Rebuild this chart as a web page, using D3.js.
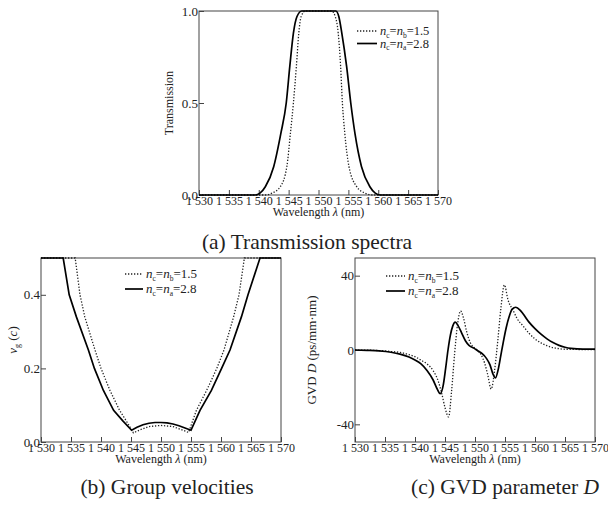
<!DOCTYPE html>
<html>
<head>
<meta charset="utf-8">
<style>
  body { margin:0; background:#fff; }
  svg text { font-family: "Liberation Serif", "Tinos", "DejaVu Serif", "Times New Roman", serif; fill:#222; }
</style>
</head>
<body>
<div id="chart-area"></div>
<script src="https://d3js.org/d3.v7.min.js"></script>
<script>

// shared wavelength axis
var xTicks = [1530, 1535, 1540, 1545, 1550, 1555, 1560, 1565, 1570];
var xTickLabels = ["1 530", "1 535", "1 540", "1 545", "1 550", "1 555", "1 560", "1 565", "1 570"];

// (a) transmission spectra
var transWlDot = [1530, 1541, 1542.2, 1543.6, 1544.7, 1545.3, 1545.8, 1546.3, 1546.7, 1547.1, 1547.8, 1552.2, 1552.8, 1553.3, 1553.7, 1554.0, 1554.4, 1555.1, 1556.4, 1557.8, 1559, 1570];
var transDot   = [0, 0, 0.01, 0.045, 0.154, 0.335, 0.5, 0.70, 0.88, 0.97, 1, 1, 0.97, 0.88, 0.70, 0.5, 0.335, 0.154, 0.045, 0.01, 0, 0];
var transWlSolid = [1530, 1539.4, 1540.2, 1541.1, 1542.5, 1543.7, 1544.6, 1545.2, 1545.8, 1546.4, 1547.2, 1552.9, 1553.4, 1553.9, 1554.7, 1555.4, 1556.1, 1557.2, 1558.6, 1559.5, 1560.3, 1570];
var transSolid   = [0, 0, 0.01, 0.045, 0.154, 0.335, 0.5, 0.70, 0.88, 0.97, 1, 1, 0.97, 0.88, 0.70, 0.5, 0.335, 0.154, 0.045, 0.01, 0, 0];
var transTicks = [0, 0.5, 1];
var transTickLabels = ["0.0", "0.5", "1.0"];

// (b) group velocities
var vgWlDot = [1530, 1535.7, 1536.5, 1537.3, 1539, 1540, 1541.5, 1543.1, 1544.3, 1545.4, 1546.5, 1548, 1550, 1552, 1553.5, 1554.6, 1555.9, 1557.6, 1559.3, 1560.5, 1562.1, 1563, 1563.9, 1570];
var vgDot   = [0.5, 0.5, 0.4, 0.34, 0.25, 0.2, 0.14, 0.086, 0.055, 0.025, 0.033, 0.042, 0.045, 0.042, 0.033, 0.026, 0.086, 0.14, 0.2, 0.25, 0.34, 0.4, 0.5, 0.5];
var vgWlSolid = [1530, 1533.7, 1534.7, 1535.9, 1537.9, 1538.9, 1540.4, 1542.1, 1543.6, 1545.1, 1546, 1547, 1548, 1549, 1550, 1551, 1552, 1553, 1554, 1555, 1556.5, 1558.4, 1560.1, 1561.5, 1563.4, 1564.5, 1566.5, 1570];
var vgSolid   = [0.5, 0.5, 0.4, 0.34, 0.25, 0.2, 0.14, 0.086, 0.058, 0.032, 0.040, 0.047, 0.051, 0.053, 0.053, 0.052, 0.049, 0.044, 0.038, 0.032, 0.086, 0.14, 0.2, 0.25, 0.34, 0.4, 0.5, 0.5];
var vgTicks = [0, 0.2, 0.4];
var vgTickLabels = ["0.0", "0.2", "0.4"];

// (c) GVD parameter D
var gvdWlDot = [1530, 1534, 1536, 1537.5, 1539, 1540, 1541, 1542, 1543, 1543.9, 1544.5, 1545, 1545.6, 1546.1, 1546.6, 1547.1, 1547.6, 1548.1, 1548.6, 1549.2, 1549.8, 1550.4, 1551, 1551.6, 1552.1, 1552.7, 1553.3, 1553.8, 1554.3, 1554.9, 1555.5, 1556.4, 1557, 1558, 1559, 1560, 1561, 1562, 1563, 1564, 1565, 1570];
var gvdDot   = [0, -0.3, -0.8, -1.3, -2.5, -3.6, -5.5, -7.5, -11, -17, -24, -31, -36, -22, -2, 14, 21, 17, 10, 4, 1.5, 0, -2.5, -7, -13, -21, -10, 5, 22, 35, 27, 21, 17, 13, 9, 6, 3.8, 2.3, 1.3, 0.7, 0.4, 0.2];
var gvdWlSolid = [1530, 1532, 1534, 1536, 1537.5, 1539, 1540, 1541, 1542, 1543, 1543.7, 1544.2, 1544.7, 1545.1, 1545.5, 1545.9, 1546.3, 1546.7, 1547.2, 1547.8, 1548.4, 1549, 1549.8, 1550.5, 1551.2, 1551.9, 1552.5, 1553, 1553.4, 1553.9, 1554.3, 1554.7, 1555.2, 1555.7, 1556.2, 1556.8, 1557.5, 1558, 1559, 1560, 1561, 1562, 1563, 1564, 1565, 1566, 1568, 1570];
var gvdSolid   = [0, -0.2, -0.5, -1.2, -2.2, -3.8, -5.4, -7.5, -11, -16, -21, -23.5, -19, -10, 0, 8, 13, 15, 13, 9, 5, 2.5, 1, -0.5, -2, -4.5, -8, -13, -15, -10, -3, 4, 12, 18, 22, 23, 21.5, 19.5, 15, 11.5, 8.5, 6, 4, 2.5, 1.5, 0.9, 0.5, 0.5];
var gvdTicks = [-40, 0, 40];
var gvdTickLabels = ["-40", "0", "40"];

// legend: subscript of the second n, and the value
var legendSubs = ["b", "a"];
var legendValues = ["1.5", "2.8"];

var serif = '"Liberation Serif", "Tinos", "DejaVu Serif", "Times New Roman", serif';

var svg = d3.select("#chart-area").append("svg")
    .attr("width", 608)
    .attr("height", 506)
    .attr("font-family", serif);

function drawPanel(p) {
    var x = d3.scaleLinear().domain([1530, 1570]).range([p.left, p.right]);
    var y = d3.scaleLinear().domain(p.yDomain).range([p.bottom, p.top]);

    svg.append("clipPath").attr("id", "clip-" + p.name)
      .append("rect")
        .attr("x", p.left).attr("y", p.top - 1)
        .attr("width", p.right - p.left).attr("height", p.bottom - p.top + 2);

    // axes, ticks pointing inward
    var xAxis = d3.axisBottom(x).tickValues(xTicks).tickSize(-5).tickPadding(1)
        .tickFormat(function(d, i) { return xTickLabels[i]; });
    var gx = svg.append("g").attr("transform", "translate(0," + p.bottom + ")").call(xAxis);
    gx.attr("font-size", 12);

    var yAxis = d3.axisLeft(y).tickValues(p.yTicks).tickSize(-5).tickPadding(1)
        .tickFormat(function(d, i) { return p.yTickLabels[i]; });
    var gy = svg.append("g").attr("transform", "translate(" + p.left + ",0)").call(yAxis);
    gy.attr("font-size", 13);

    [gx, gy].forEach(function(g) {
        g.attr("font-family", serif);
        g.select(".domain").remove();
        g.selectAll(".tick line").attr("stroke", "#444");
        g.selectAll(".tick text").attr("fill", "#222");
    });

    // frame
    svg.append("rect")
        .attr("x", p.left).attr("y", p.top)
        .attr("width", p.right - p.left).attr("height", p.bottom - p.top)
        .attr("fill", "none").attr("stroke", "#444").attr("stroke-width", 1);

    var line = d3.line()
        .x(function(d) { return x(d[0]); })
        .y(function(d) { return y(d[1]); })
        .curve(p.curve);

    svg.append("path")
        .datum(d3.zip(p.wlDot, p.dot))
        .attr("clip-path", "url(#clip-" + p.name + ")")
        .attr("d", line)
        .attr("fill", "none")
        .attr("stroke", "#222")
        .attr("stroke-width", 1.3)
        .attr("stroke-dasharray", "1.3,1.7");

    svg.append("path")
        .datum(d3.zip(p.wlSolid, p.solid))
        .attr("clip-path", "url(#clip-" + p.name + ")")
        .attr("d", line)
        .attr("fill", "none")
        .attr("stroke", "#000")
        .attr("stroke-width", 1.7);

    // legend
    var lg = svg.append("g");
    legendSubs.forEach(function(sub, i) {
        var ly = p.legY + i * p.legGap;
        lg.append("line")
            .attr("x1", p.legX).attr("x2", p.legX + p.legLen)
            .attr("y1", ly).attr("y2", ly)
            .attr("stroke", i == 0 ? "#222" : "#000")
            .attr("stroke-width", i == 0 ? 1.3 : 1.7)
            .attr("stroke-dasharray", i == 0 ? "1.3,1.7" : null);
        var t = lg.append("text")
            .attr("x", p.legX + p.legLen + 3)
            .attr("y", ly + 4)
            .attr("font-size", p.legSize);
        t.append("tspan").attr("font-style", "italic").text("n");
        t.append("tspan").attr("font-size", 7.5).attr("dy", 2.5).text("c");
        t.append("tspan").attr("dy", -2.5).text("=");
        t.append("tspan").attr("font-style", "italic").text("n");
        t.append("tspan").attr("font-size", 7.5).attr("dy", 2.5).text(sub);
        t.append("tspan").attr("dy", -2.5).text("=" + legendValues[i]);
    });

    // x title
    var xt = svg.append("text")
        .attr("x", (p.left + p.right) / 2)
        .attr("y", p.bottom + 21)
        .attr("text-anchor", "middle")
        .attr("font-size", 12);
    xt.append("tspan").text("Wavelength ");
    xt.append("tspan").attr("font-style", "italic").text("λ");
    xt.append("tspan").text(" (nm)");

    // y title
    var yt = svg.append("text")
        .attr("transform", "translate(" + p.yTitleX + "," + ((p.top + p.bottom) / 2 + p.yTitleShift) + ") rotate(-90)")
        .attr("text-anchor", "middle")
        .attr("font-size", p.yTitleSize);
    p.yTitle(yt);

    // caption
    var cap = svg.append("text")
        .attr("x", p.capX).attr("y", p.capY)
        .attr("text-anchor", "middle")
        .attr("font-size", 21.5)
        .attr("fill", "#111");
    p.caption(cap);
}

drawPanel({
    name: "a", left: 199, right: 438, top: 11, bottom: 195,
    yDomain: [0, 1], yTicks: transTicks, yTickLabels: transTickLabels,
    wlDot: transWlDot, dot: transDot, wlSolid: transWlSolid, solid: transSolid,
    curve: d3.curveMonotoneX,
    legX: 357, legY: 31, legGap: 12.5, legLen: 20, legSize: 12.5,
    yTitleX: 173, yTitleShift: 0, yTitleSize: 12,
    yTitle: function(t) { t.text("Transmission"); },
    capX: 307, capY: 249,
    caption: function(t) { t.text("(a) Transmission spectra"); }
});

drawPanel({
    name: "b", left: 41, right: 281, top: 258, bottom: 442,
    yDomain: [0, 0.5], yTicks: vgTicks, yTickLabels: vgTickLabels,
    wlDot: vgWlDot, dot: vgDot, wlSolid: vgWlSolid, solid: vgSolid,
    curve: d3.curveLinear,
    legX: 125, legY: 274, legGap: 15, legLen: 18, legSize: 13,
    yTitleX: 17, yTitleShift: -10, yTitleSize: 13,
    yTitle: function(t) {
        t.append("tspan").attr("font-style", "italic").text("v");
        t.append("tspan").attr("font-size", 8).attr("dy", 3).text("g");
        t.append("tspan").attr("dy", -3).text(" (");
        t.append("tspan").attr("font-style", "italic").text("c");
        t.append("tspan").text(")");
    },
    capX: 167, capY: 494,
    caption: function(t) { t.text("(b) Group velocities"); }
});

drawPanel({
    name: "c", left: 355, right: 595, top: 258, bottom: 442,
    yDomain: [-49.5, 49.5], yTicks: gvdTicks, yTickLabels: gvdTickLabels,
    wlDot: gvdWlDot, dot: gvdDot, wlSolid: gvdWlSolid, solid: gvdSolid,
    curve: d3.curveMonotoneX,
    legX: 386, legY: 276, legGap: 15, legLen: 19, legSize: 13,
    yTitleX: 316, yTitleShift: 0, yTitleSize: 13,
    yTitle: function(t) {
        t.append("tspan").text("GVD ");
        t.append("tspan").attr("font-style", "italic").text("D");
        t.append("tspan").text(" (ps/mm·nm)");
    },
    capX: 505, capY: 494,
    caption: function(t) {
        t.append("tspan").text("(c) GVD parameter ");
        t.append("tspan").attr("font-style", "italic").text("D");
    }
});

</script>
</body>
</html>
